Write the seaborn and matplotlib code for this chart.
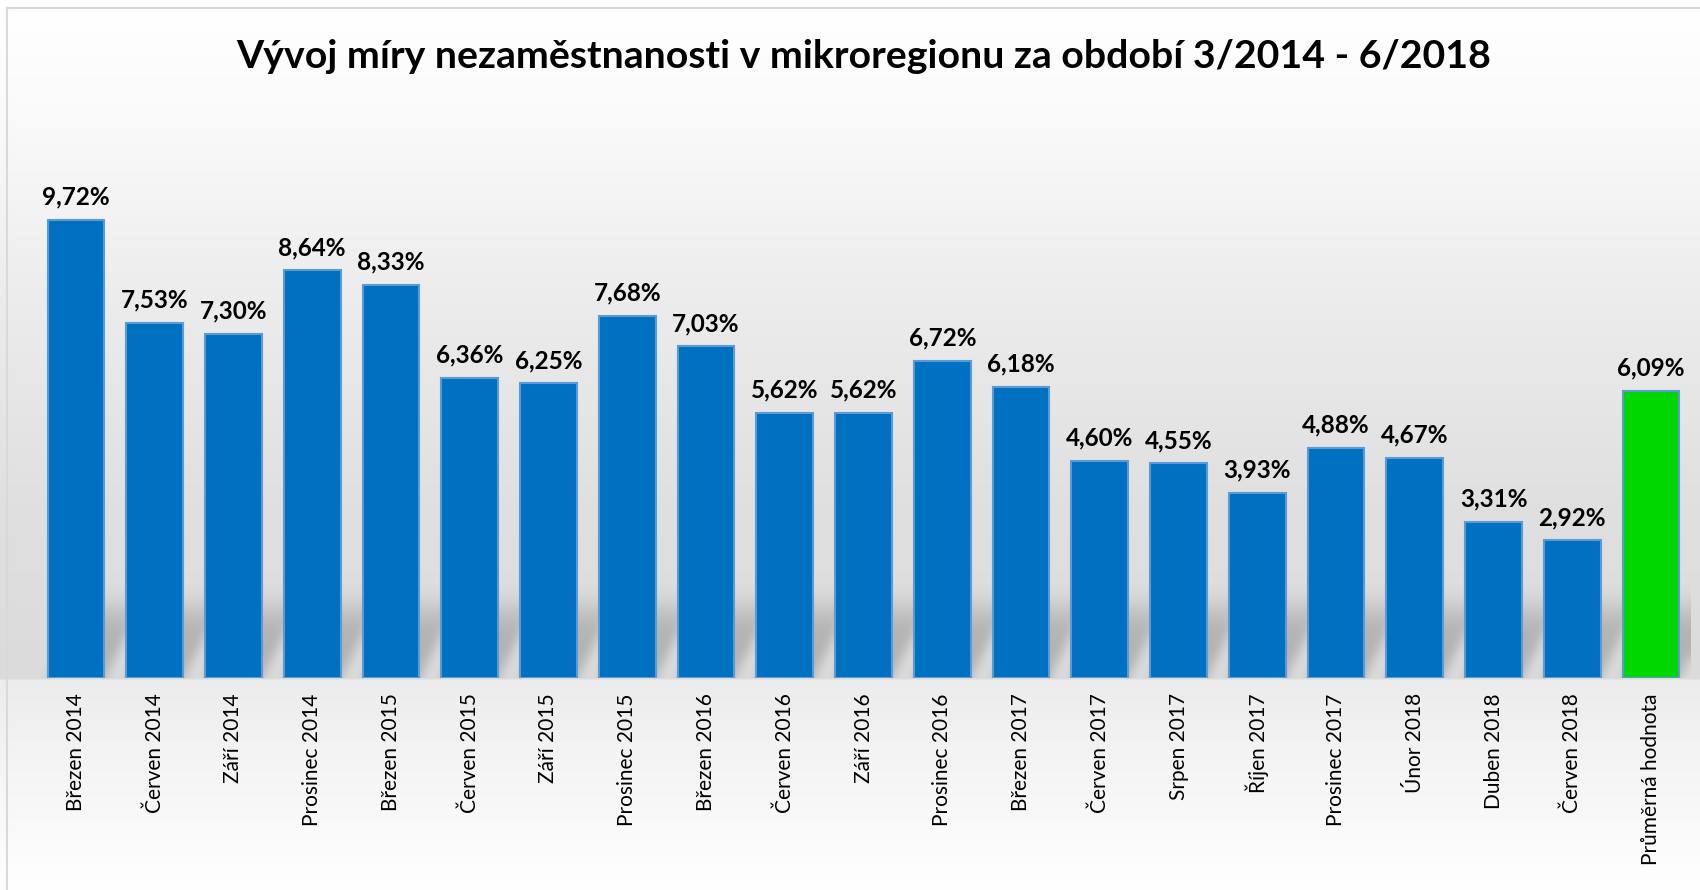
import numpy as np
import pandas as pd
import matplotlib
matplotlib.use("Agg")
import matplotlib.pyplot as plt
from matplotlib.lines import Line2D
import seaborn as sns

# ---- data ----
categories = ["Březen 2014", "Červen 2014", "Září 2014", "Prosinec 2014", "Březen 2015",
              "Červen 2015", "Září 2015", "Prosinec 2015", "Březen 2016", "Červen 2016",
              "Září 2016", "Prosinec 2016", "Březen 2017", "Červen 2017", "Srpen 2017",
              "Říjen 2017", "Prosinec 2017", "Únor 2018", "Duben 2018", "Červen 2018",
              "Průměrná hodnota"]
values = [9.72, 7.53, 7.30, 8.64, 8.33, 6.36, 6.25, 7.68, 7.03, 5.62,
          5.62, 6.72, 6.18, 4.60, 4.55, 3.93, 4.88, 4.67, 3.31, 2.92, 6.09]
title = "Vývoj míry nezaměstnanosti v mikroregionu za období 3/2014 - 6/2018"

BLUE = "#0070C0"
GREEN = "#00D600"
colors = [BLUE] * (len(categories) - 1) + [GREEN]

sns.set_theme(style="white")
FAM = ["Lato", "DejaVu Sans"]
plt.rcParams["font.family"] = FAM

W, H = 1700, 890
fig = plt.figure(figsize=(W / 100, H / 100), dpi=100)
fig.patch.set_facecolor("white")

# ---- figure background gradient ----
bg = fig.add_axes([0, 0, 1, 1], zorder=-10)
bg.set_axis_off()
ys = np.arange(H)
stops_y = [0, 8, 120, 300, 500, 678, 680, 760, 890]
stops_v = [255, 255, 250, 236, 224, 219, 236, 244, 255]
col = np.interp(ys, stops_y, stops_v) / 255.0
img = np.repeat(col[:, None], 4, axis=1)
rgb = np.dstack([img, img, img])
bg.imshow(rgb, aspect="auto", extent=(0, 1, 0, 1), origin="upper")
bg.set_xlim(0, 1)
bg.set_ylim(0, 1)

# ---- main axes ----
x0, x1 = 36.6, 1690.4
ybase, ytop = 678, 112
ax = fig.add_axes([x0 / W, 1 - ybase / H, (x1 - x0) / W, (ybase - ytop) / H])
ax.patch.set_alpha(0)

df = pd.DataFrame({"cat": categories, "val": values})
sns.barplot(data=df, x="cat", y="val", hue="cat", palette=colors, legend=False,
            saturation=1, width=0.72, edgecolor="#5B9BD5", linewidth=1.5,
            ax=ax, zorder=3)

nb = len(categories)
XMIN, XMAX = -0.5, nb - 0.5

# soft perspective shadows on the floor behind the bars
bw = 0.72
hs = 2.0           # shadow height (data units)
k = 0.6 / hs       # skew to the right per unit height
gx = np.linspace(XMIN, XMAX, 1654)
gy = np.linspace(0, 2.8, 132)
GX, GY = np.meshgrid(gx, gy)
mask = np.zeros_like(GX)
S = GX - k * GY
for i in range(nb):
    m = (S >= i - bw / 2) & (S <= i + bw / 2) & (GY <= hs)
    mask = np.maximum(mask, m.astype(float))
fade = np.clip((hs - GY) / 1.1, 0, 1)
fade = fade * fade * (3 - 2 * fade)
mask = mask * fade


def gauss_blur(a, sx, sy):
    def kern(s):
        r = int(3 * s) + 1
        t = np.arange(-r, r + 1)
        g = np.exp(-0.5 * (t / s) ** 2)
        return g / g.sum()
    kx, ky = kern(sx), kern(sy)
    a = np.apply_along_axis(lambda v: np.convolve(np.pad(v, len(kx) // 2, mode="edge"), kx, mode="valid"), 1, a)
    a = np.apply_along_axis(lambda v: np.convolve(np.pad(v, len(ky) // 2, mode="edge"), ky, mode="valid"), 0, a)
    return a


mask = gauss_blur(mask, 5, 6)
shadow = np.zeros(mask.shape + (4,))
shadow[..., :3] = 0.25
shadow[..., 3] = 0.26 * mask
ax.imshow(shadow, aspect="auto", extent=(XMIN, XMAX, 0, 2.8), origin="lower",
          zorder=1, interpolation="bilinear")

ax.set_xlim(XMIN, XMAX)
ax.set_ylim(0, 12)

for i, v in enumerate(values):
    ax.annotate(f"{v:.2f}%".replace(".", ","), (i, v), xytext=(0, 11),
                textcoords="offset points", ha="center", va="baseline",
                fontsize=17.5, fontweight="bold", color="black", family=FAM)

ax.set_xlabel("")
ax.set_ylabel("")
ax.set_yticks([])
ax.tick_params(axis="x", length=0, pad=11)
ax.set_xticks(range(nb))
ax.set_xticklabels(categories, rotation=90, fontsize=15, color="black", family=FAM,
                   va="top", ha="center")
for s in ax.spines.values():
    s.set_visible(False)

# title
fig.text(864 / W, 1 - 56 / H, title, ha="center", va="center",
         fontsize=28.3, fontweight="bold", color="black", family=FAM)

# chart border (top and left)
fig.add_artist(Line2D([7 / W, 1], [1 - 8 / H, 1 - 8 / H], color="#d9d9d9", lw=1.5))
fig.add_artist(Line2D([7 / W, 7 / W], [0, 1 - 8 / H], color="#d9d9d9", lw=1.5))

fig.savefig("out.png", dpi=100)
